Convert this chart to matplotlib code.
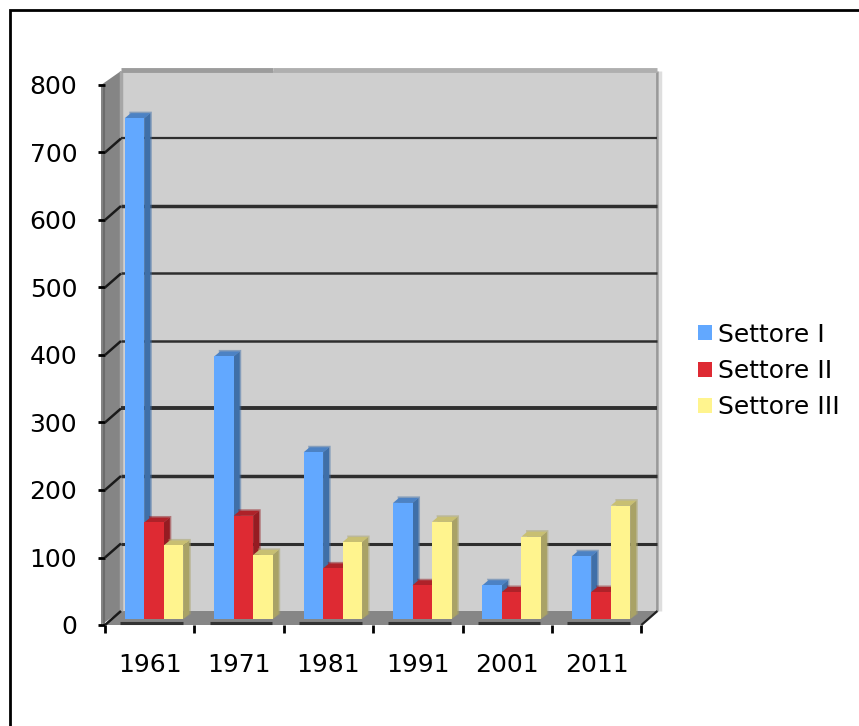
import matplotlib
matplotlib.use("Agg")
import matplotlib.pyplot as plt
from matplotlib.patches import Polygon, Rectangle

years = ["1961", "1971", "1981", "1991", "2001", "2011"]
settore_1 = [742, 389, 247, 172, 50, 93]
settore_2 = [143, 153, 75, 50, 40, 40]
settore_3 = [109, 95, 114, 144, 122, 168]
y_ticks = [0, 100, 200, 300, 400, 500, 600, 700, 800]
grid_widths = {100: 2.2, 200: 2.5, 300: 2.8, 400: 1.8, 500: 1.8, 600: 2.5, 700: 1.6}

W, H = 859, 726
plt.rcParams['font.family'] = ['DejaVu Sans']
fig = plt.figure(figsize=(W / 100, H / 100), dpi=100, facecolor='white')

# plot box in pixels
L, R, B, T = 105, 657, 625, 71
cat_px = 89.4
val_px = 0.675
ax = fig.add_axes([L / W, 1 - B / H, (R - L) / W, (B - T) / H])
ax.set_xlim(0, (R - L) / cat_px)
ax.set_ylim(0, (B - T) / val_px)
ax.patch.set_alpha(0)
for s in ax.spines.values():
    s.set_visible(False)

DX = 16 / cat_px
DY = 14 / val_px
n = len(years)
top = y_ticks[-1]
PX = 1 / cat_px    # one pixel in x units
PY = 1 / val_px    # one pixel in y units


def poly(pts, color, z=1, **kw):
    ax.add_patch(Polygon(pts, closed=True, fc=color, ec='none', zorder=z, clip_on=False, **kw))


def line(xs, ys, color, lw, z):
    ax.plot(xs, ys, color=color, lw=lw, zorder=z, solid_capstyle='butt', clip_on=False)


# walls
poly([(DX, DY), (n + DX, DY), (n + DX, top + DY), (DX, top + DY)], '#cfcfcf', 1)
poly([(-4 * PX, 0), (DX, DY), (DX, top + DY), (-4 * PX, top)], '#858585', 1)
poly([(0, 0), (n, 0), (n + DX, DY), (DX, DY)], '#868686', 1)
# wall edges
line([DX, DX], [DY, top + DY], '#a6a6a6', 2.5, 1.5)
line([-1 * PX, -1 * PX], [0, top], '#6c6c6c', 1.5, 1.5)
line([n + DX, n + DX], [DY, top + DY], '#999999', 2, 1.5)
line([n + DX + 3 * PX] * 2, [DY, top + DY], '#dedede', 2.5, 1.5)
band_y = top + DY + 0.5 * PY
line([DX, 1.88], [band_y, band_y], '#9c9c9c', 3.5, 1.5)
line([1.88, n + DX], [band_y, band_y], '#afafaf', 3.5, 1.5)
line([n, n + DX], [0, DY], '#222222', 1.6, 1.6)

# gridlines
for v in y_ticks:
    if v in grid_widths:
        line([DX, n + DX], [v + DY, v + DY], '#2e2e2e', grid_widths[v], 2)
    if v < top:
        line([0, DX], [v, v + DY], '#1a1a1a', 1.8, 2)

# dark shadow on the floor's front edge, below each group
for c in range(n):
    line([c + 0.17, c + 0.87], [2.5 * PY, 2.5 * PY], '#333333', 2.2, 2)

# bars
BW = 0.218
X0 = 0.222
BASE = 6 * PY
DEP_X = 6 * PX
DEP_Y = 5 * PY
HALO = 1.5
series = [
    (settore_1, 'Settore I', '#62a8ff', '#3f6fa8', '#4c82c4'),
    (settore_2, 'Settore II', '#de2a33', '#951c22', '#ae2229'),
    (settore_3, 'Settore III', '#fff48e', '#a9a266', '#c8bf72'),
]
for c in range(n):
    for s, (vals, name, face, side, cap) in enumerate(series):
        x0 = c + X0 + s * BW
        x1 = x0 + BW
        y1 = BASE + vals[c]
        z = 3 + c + s * 0.1
        hx, hy = (DEP_X + HALO * PX), (DEP_Y + HALO * PY)
        poly([(x0 + hx - 3 * PX, y1 + hy), (x1 + hx, y1 + hy), (x1 + hx, BASE + DEP_Y), (x1, BASE)],
             side, z - 0.01, alpha=0.5)
        poly([(x1, BASE), (x1 + DEP_X, BASE + DEP_Y), (x1 + DEP_X, y1 + DEP_Y), (x1, y1)], side, z)
        poly([(x0, y1), (x1, y1), (x1 + DEP_X, y1 + DEP_Y), (x0 + DEP_X, y1 + DEP_Y)], cap, z)
        poly([(x0, BASE), (x1, BASE), (x1, y1), (x0, y1)], face, z + 0.01)

# axes
ax.set_xticks(range(n + 1))
ax.set_xticklabels([])
ax.set_xticks([i + 0.5 for i in range(n)], minor=True)
ax.set_xticklabels(years, minor=True, fontsize=18, color='black')
ax.tick_params(axis='x', which='major', length=6, width=2, color='black')
ax.tick_params(axis='x', which='minor', length=0, pad=20)
ax.set_yticks(y_ticks)
ax.set_yticklabels([str(v) for v in y_ticks], fontsize=18, color='black')
ax.tick_params(axis='y', length=5, width=2, color='black', pad=15)

# legend
handles = [Rectangle((0, 0), 1, 1, fc=s[2], ec='none') for s in series]
fig.legend(handles, [s[1] for s in series], loc='center left',
           bbox_to_anchor=(698 / W, 1 - 371 / H), frameon=False, fontsize=18,
           handlelength=0.56, handleheight=0.56, handletextpad=0.24,
           labelspacing=0.5, borderpad=0, borderaxespad=0)

# chart frame
fig.add_artist(Rectangle((9.5 / W, -0.02), (W + 20) / W, 1 - 10 / H + 0.02,
                         transform=fig.transFigure, fc='none', ec='black', lw=2))

fig.savefig('out.png', dpi=100)
